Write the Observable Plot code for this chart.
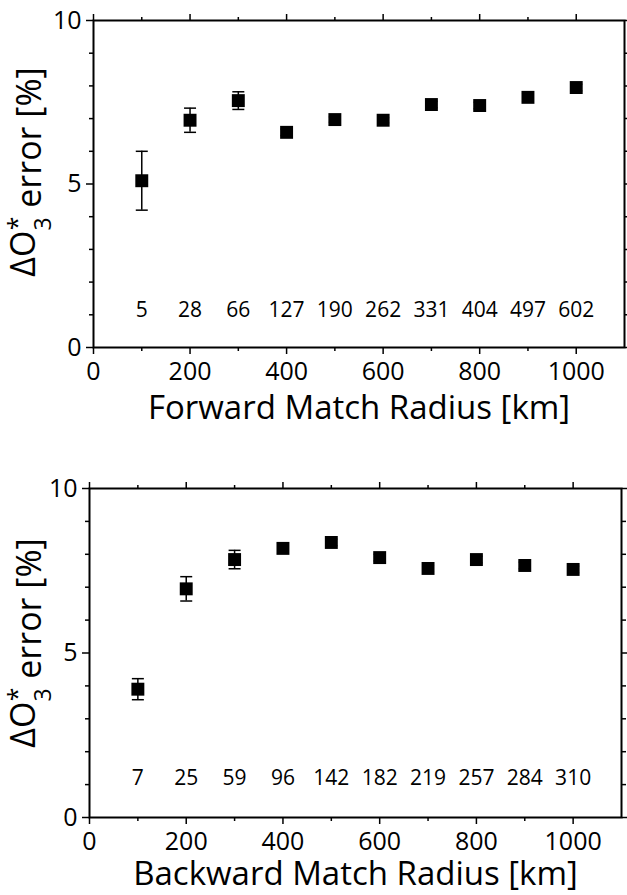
<!DOCTYPE html>
<html>
<head>
<meta charset="utf-8">
<style>
  body { margin: 0; background: #fff; }
  #chart svg { display: block; }
</style>
<script src="https://cdn.jsdelivr.net/npm/d3@7"></script>
<script src="https://cdn.jsdelivr.net/npm/@observablehq/plot@0.6"></script>
</head>
<body>
<div id="chart"></div>
<script>
// ---- data ----
const radius = [100, 200, 300, 400, 500, 600, 700, 800, 900, 1000];

const forwardError = [5.1, 6.95, 7.55, 6.58, 6.97, 6.95, 7.43, 7.4, 7.65, 7.95];
const forwardUnc   = [0.9, 0.37, 0.27, 0.1, 0.08, 0.08, 0.1, 0.1, 0.12, 0.1];
const forwardCount = [5, 28, 66, 127, 190, 262, 331, 404, 497, 602];

const backwardError = [3.9, 6.95, 7.84, 8.18, 8.36, 7.9, 7.57, 7.84, 7.66, 7.54];
const backwardUnc   = [0.32, 0.37, 0.28, 0.15, 0.1, 0.1, 0.1, 0.1, 0.1, 0.1];
const backwardCount = [7, 25, 59, 96, 142, 182, 219, 257, 284, 310];

const xMajorTicks = [0, 200, 400, 600, 800, 1000];
const xMinorTicks = [100, 300, 500, 700, 900];
const yMajorTicks = [0, 5, 10];
const yMinorTicks = [1, 2, 3, 4, 6, 7, 8, 9];

const forwardTitle = "Forward Match Radius [km]";
const backwardTitle = "Backward Match Radius [km]";

const FONT = "'Open Sans', 'Noto Sans', sans-serif";
const TICK_FONT = 25;

const capSymbol = {
  draw(ctx) { ctx.moveTo(-6, 0); ctx.lineTo(6, 0); }
};

function panel(o) {
  const rows = radius.map((r, i) => ({
    r, e: o.error[i], lo: o.error[i] - o.unc[i], hi: o.error[i] + o.unc[i], n: o.count[i]
  }));
  const noText = () => null;
  const p = Plot.plot({
    width: 627,
    height: o.height,
    marginTop: o.mt, marginBottom: o.mb, marginLeft: o.ml, marginRight: o.mr,
    style: { fontFamily: FONT, color: "black", background: "white", overflow: "visible" },
    x: { domain: [0, 1100], label: null },
    y: { domain: [0, 10], label: null },
    marks: [
      Plot.axisX(xMajorTicks, { anchor: "bottom", tickSize: 7, tickPadding: 8, fontSize: TICK_FONT, tickFormat: "d", strokeWidth: 1.5, label: null }),
      Plot.axisX(xMinorTicks, { anchor: "bottom", tickSize: 4, tickFormat: noText, strokeWidth: 1.5, label: null }),
      Plot.axisX(xMajorTicks, { anchor: "top", tickSize: 7, tickFormat: noText, strokeWidth: 1.5, label: null }),
      Plot.axisX(xMinorTicks, { anchor: "top", tickSize: 4, tickFormat: noText, strokeWidth: 1.5, label: null }),
      Plot.axisY(yMajorTicks, { anchor: "left", tickSize: 7, tickPadding: 5, fontSize: TICK_FONT, tickFormat: "d", strokeWidth: 1.5, label: null }),
      Plot.axisY(yMinorTicks, { anchor: "left", tickSize: 4, tickFormat: noText, strokeWidth: 1.5, label: null }),
      Plot.axisY(yMajorTicks, { anchor: "right", tickSize: 7, tickFormat: noText, strokeWidth: 1.5, label: null }),
      Plot.axisY(yMinorTicks, { anchor: "right", tickSize: 4, tickFormat: noText, strokeWidth: 1.5, label: null }),
      Plot.frame({ stroke: "black", strokeWidth: 2 }),
      Plot.ruleX(rows, { x: "r", y1: "lo", y2: "hi", stroke: "black", strokeWidth: 1.5 }),
      Plot.dot(rows, { x: "r", y: "hi", symbol: capSymbol, fill: "none", stroke: "black", strokeWidth: 1.5 }),
      Plot.dot(rows, { x: "r", y: "lo", symbol: capSymbol, fill: "none", stroke: "black", strokeWidth: 1.5 }),
      Plot.dot(rows, { x: "r", y: "e", symbol: "square", r: 7.3, fill: "black", stroke: "none" }),
      Plot.text(rows, { x: "r", y: o.countY, text: "n", fontSize: 21, fill: "black" }),
      Plot.text([o.title], { text: d => d, frameAnchor: "bottom", dy: o.titleDy, lineAnchor: "top", fontSize: 33, fill: "black" })
    ]
  });
  // make sure the tick labels get the intended size
  d3.select(p).selectAll('g[aria-label$="tick label"]').selectAll("text")
    .style("font-size", TICK_FONT + "px");
  // y-axis label: ΔO3* error [%]
  const t = d3.select(p).append("text")
    .attr("transform", `translate(41,${o.labelCy}) rotate(-90)`)
    .attr("text-anchor", "middle")
    .attr("font-family", FONT)
    .attr("font-size", 34)
    .attr("fill", "black")
    .attr("style", "white-space:pre");
  t.append("tspan").attr("dy", -6).text("ΔO");
  t.append("tspan").attr("dy", 16).attr("font-size", 23).text("3");
  t.append("tspan").attr("dx", -13).attr("dy", -25).attr("font-size", 25).text("*");
  t.append("tspan").attr("dy", 15).text(" error [%]");
  return p;
}

const chart = document.getElementById("chart");
chart.append(panel({
  error: forwardError, unc: forwardUnc, count: forwardCount, title: forwardTitle,
  height: 445, mt: 20, mb: 98, ml: 93, mr: 3, countY: 1.13, titleDy: 48, labelCy: 172
}));
chart.append(panel({
  error: backwardError, unc: backwardUnc, count: backwardCount, title: backwardTitle,
  height: 450, mt: 43, mb: 78, ml: 89, mr: 6, countY: 1.2, titleDy: 44, labelCy: 198
}));
</script>
</body>
</html>
